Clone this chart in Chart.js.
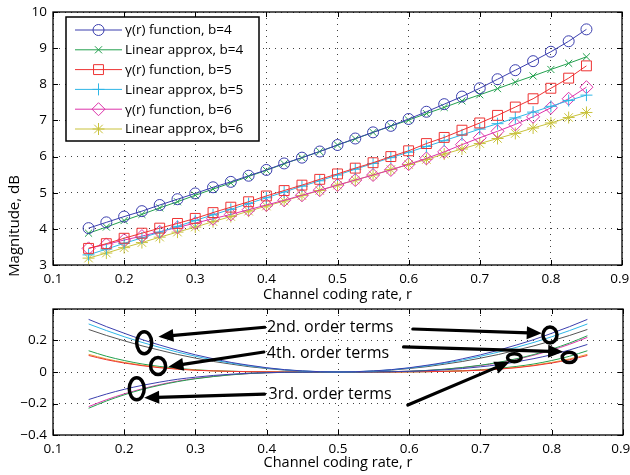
<!DOCTYPE html>
<html>
<head>
<meta charset="utf-8">
<script src="https://cdn.jsdelivr.net/npm/chart.js@4.4.0/dist/chart.umd.min.js"></script>
<style>
  html, body { margin: 0; padding: 0; background: #fff; }
  #wrap { position: relative; width: 630px; height: 475px; }
  #topChart { position: absolute; left: 0; top: 0; }
  #botChart { position: absolute; left: 0; top: 305px; }
</style>
</head>
<body>
<div id="wrap">
  <canvas id="topChart" width="630" height="305"></canvas>
  <canvas id="botChart" width="630" height="170"></canvas>
</div>
<script>
/* ============================================================
   Magnitude vs channel coding rate + expansion terms
   ============================================================ */

// ── Data ─────────────────────────────────────────────────────
const rates = [0.15, 0.175, 0.2, 0.225, 0.25, 0.275, 0.3, 0.325, 0.35, 0.375,
               0.4, 0.425, 0.45, 0.475, 0.5, 0.525, 0.55, 0.575, 0.6, 0.625,
               0.65, 0.675, 0.7, 0.725, 0.75, 0.775, 0.8, 0.825, 0.85];

const xTicks       = [0.1, 0.2, 0.3, 0.4, 0.5, 0.6, 0.7, 0.8, 0.9];
const yTicksTop    = [3, 4, 5, 6, 7, 8, 9, 10];
const yTicksBottom = [-0.4, -0.2, 0, 0.2, 0.4];

const gammaB4 = [4.02, 4.18, 4.34, 4.49, 4.66, 4.82, 4.98, 5.15, 5.30, 5.47,
                 5.63, 5.81, 5.97, 6.14, 6.32, 6.50, 6.67, 6.85, 7.04, 7.24,
                 7.45, 7.66, 7.89, 8.14, 8.39, 8.64, 8.90, 9.19, 9.52];
const linB4   = [3.88, 4.05, 4.23, 4.40, 4.58, 4.75, 4.93, 5.10, 5.27, 5.45,
                 5.62, 5.80, 5.97, 6.14, 6.32, 6.49, 6.67, 6.84, 7.01, 7.19,
                 7.36, 7.54, 7.71, 7.88, 8.06, 8.23, 8.41, 8.58, 8.76];
const gammaB5 = [3.46, 3.59, 3.74, 3.88, 4.02, 4.15, 4.29, 4.45, 4.60, 4.75,
                 4.91, 5.06, 5.21, 5.37, 5.52, 5.68, 5.83, 6.00, 6.16, 6.36,
                 6.53, 6.73, 6.93, 7.14, 7.37, 7.60, 7.89, 8.17, 8.51];
const linB5   = [3.28, 3.44, 3.60, 3.75, 3.91, 4.07, 4.23, 4.39, 4.54, 4.70,
                 4.86, 5.02, 5.18, 5.33, 5.49, 5.65, 5.81, 5.97, 6.12, 6.28,
                 6.44, 6.60, 6.76, 6.91, 7.07, 7.23, 7.39, 7.55, 7.70];
const gammaB6 = [3.46, 3.57, 3.69, 3.80, 3.92, 4.04, 4.16, 4.28, 4.40, 4.53,
                 4.66, 4.79, 4.93, 5.07, 5.21, 5.35, 5.49, 5.63, 5.79, 5.95,
                 6.13, 6.33, 6.52, 6.70, 6.89, 7.10, 7.35, 7.60, 7.92];
const linB6   = [3.19, 3.33, 3.48, 3.62, 3.77, 3.91, 4.05, 4.20, 4.34, 4.49,
                 4.63, 4.77, 4.92, 5.06, 5.21, 5.35, 5.49, 5.64, 5.78, 5.92,
                 6.07, 6.21, 6.36, 6.50, 6.64, 6.79, 6.93, 7.08, 7.22];

const legendLabels = ['γ(r) function, b=4', 'Linear approx, b=4',
                      'γ(r) function, b=5', 'Linear approx, b=5',
                      'γ(r) function, b=6', 'Linear approx, b=6'];

// expansion terms (lower panel)
const order2Blue = [0.334, 0.288, 0.246, 0.206, 0.171, 0.138, 0.109, 0.084, 0.061, 0.043, 0.027, 0.015, 0.007, 0.002, 0,
                    0.002, 0.007, 0.015, 0.027, 0.043, 0.061, 0.084, 0.109, 0.138, 0.171, 0.206, 0.246, 0.288, 0.334];
const order2Cyan = [0.305, 0.263, 0.224, 0.188, 0.156, 0.126, 0.100, 0.076, 0.056, 0.039, 0.025, 0.014, 0.006, 0.002, 0,
                    0.002, 0.006, 0.014, 0.025, 0.039, 0.056, 0.076, 0.100, 0.126, 0.156, 0.188, 0.224, 0.263, 0.305];
const order2Gray = [0.270, 0.232, 0.198, 0.166, 0.138, 0.111, 0.088, 0.067, 0.050, 0.034, 0.022, 0.012, 0.006, 0.001, 0,
                    0.001, 0.006, 0.012, 0.022, 0.034, 0.050, 0.067, 0.088, 0.111, 0.138, 0.166, 0.198, 0.232, 0.270];
const order3Blue = [-0.175, -0.140, -0.110, -0.085, -0.064, -0.046, -0.033, -0.022, -0.014, -0.008, -0.004, -0.002, -0.001,
                    0, 0, 0,
                    0.001, 0.002, 0.004, 0.008, 0.014, 0.022, 0.033, 0.046, 0.064, 0.085, 0.110, 0.140, 0.175];
const order3Mag  = [-0.220, -0.176, -0.139, -0.107, -0.080, -0.058, -0.041, -0.028, -0.017, -0.010, -0.005, -0.002, -0.001,
                    0, 0, 0,
                    0.001, 0.002, 0.005, 0.010, 0.017, 0.028, 0.041, 0.058, 0.080, 0.107, 0.139, 0.176, 0.220];
const order3Green = [-0.230, -0.184, -0.145, -0.111, -0.084, -0.061, -0.043, -0.029, -0.018, -0.010, -0.005, -0.002, -0.001,
                     0, 0, 0,
                     0.001, 0.002, 0.005, 0.010, 0.018, 0.029, 0.043, 0.061, 0.084, 0.111, 0.145, 0.184, 0.230];
const order4Green = [0.135, 0.100, 0.073, 0.051, 0.035, 0.023, 0.014, 0.008, 0.005, 0.002, 0.001,
                     0, 0, 0, 0, 0, 0, 0,
                     0.001, 0.002, 0.005, 0.008, 0.014, 0.023, 0.035, 0.051, 0.073, 0.100, 0.135];
const order4Orange = [0.112, 0.083, 0.061, 0.043, 0.029, 0.019, 0.012, 0.007, 0.004, 0.002, 0.001,
                      0, 0, 0, 0, 0, 0, 0,
                      0.001, 0.002, 0.004, 0.007, 0.012, 0.019, 0.029, 0.043, 0.061, 0.083, 0.112];
const order4Red  = [0.105, 0.078, 0.057, 0.040, 0.027, 0.018, 0.011, 0.007, 0.004, 0.002, 0.001,
                    0, 0, 0, 0, 0, 0, 0,
                    0.001, 0.002, 0.004, 0.007, 0.011, 0.018, 0.027, 0.040, 0.057, 0.078, 0.105];

// annotation anchors in data units (r, value)
const annoLabels = ['2nd. order terms', '4th. order terms', '3rd. order terms'];
const annoAt     = [[0.489, 0.286], [0.486, 0.121], [0.489, -0.140]];
const arrowLines = [[0.397, 0.284, 0.248, 0.224], [0.605, 0.273, 0.786, 0.246],
                    [0.396, 0.127, 0.262, 0.034], [0.592, 0.159, 0.816, 0.129],
                    [0.397, -0.140, 0.228, -0.163], [0.598, -0.210, 0.741, 0.065]];
const rings      = [[0.228, 0.186, 7.5, 11], [0.2475, 0.038, 7.5, 8.5], [0.2175, -0.107, 7.5, 11],
                    [0.7975, 0.235, 7, 8], [0.8245, 0.093, 7, 5.2], [0.7475, 0.091, 6.8, 4]];

// ── Shared style ─────────────────────────────────────────────
const FONT = "'Open Sans', sans-serif";
const C = {
  blue: '#3b3fae', green: '#23a04e', red: '#ee3333',
  cyan: '#2fb6e6', magenta: '#dd33aa', yellow: '#c9c23c',
  gray: '#555555', orange: '#e8a030'
};

const pts = arr => arr.map((v, i) => ({ x: rates[i], y: v }));

const fmtTick = v => {
  if (Math.abs(v) < 1e-9) return '0';
  const s = Math.abs(v) >= 1 && Number.isInteger(v) ? String(Math.abs(v)) : Math.abs(v).toFixed(1);
  return (v < 0 ? '\u2212' : '') + s;
};
// last x label sits on the canvas edge: pad it so it stays fully visible
const fmtX = (v, i, all) => fmtTick(v) + (i === all.length - 1 ? '\u2009\u2009' : '');

// box + inward ticks on all four sides, MATLAB style
const matlabFrame = {
  id: 'matlabFrame',
  afterDatasetsDraw(chart) {
    const { ctx, chartArea: { left, right, top, bottom }, scales } = chart;
    ctx.save();
    ctx.strokeStyle = '#000';
    ctx.lineWidth = 1;
    ctx.beginPath();
    scales.x.ticks.forEach(t => {
      const px = Math.round(scales.x.getPixelForValue(t.value)) + 0.5;
      ctx.moveTo(px, bottom); ctx.lineTo(px, bottom - 5);
      ctx.moveTo(px, top);    ctx.lineTo(px, top + 5);
    });
    scales.y.ticks.forEach(t => {
      const py = Math.round(scales.y.getPixelForValue(t.value)) + 0.5;
      ctx.moveTo(left, py);  ctx.lineTo(left + 5, py);
      ctx.moveTo(right, py); ctx.lineTo(right - 5, py);
    });
    ctx.stroke();
    ctx.lineWidth = 1.3;
    ctx.strokeRect(left, top, right - left, bottom - top);
    ctx.restore();
  }
};

const sideLabel = {
  id: 'sideLabel',
  afterDraw(chart) {
    const { ctx } = chart;
    ctx.save();
    ctx.translate(15, 226);
    ctx.rotate(-Math.PI / 2);
    ctx.font = `15px ${FONT}`;
    ctx.fillStyle = '#000';
    ctx.textAlign = 'center';
    ctx.textBaseline = 'middle';
    ctx.fillText('Magnitude, dB', 0, 0);
    ctx.restore();
  }
};

const boxLegend = {
  id: 'boxLegend',
  afterDraw(chart) {
    const { ctx } = chart;
    const x0 = 66, y0 = 17, w = 193, h = 124;
    ctx.save();
    ctx.fillStyle = '#fff';
    ctx.fillRect(x0, y0, w, h);
    ctx.strokeStyle = '#000';
    ctx.lineWidth = 1.5;
    ctx.strokeRect(x0, y0, w, h);
    ctx.font = `13.5px ${FONT}`;
    ctx.textBaseline = 'middle';
    chart.data.datasets.forEach((ds, i) => {
      const y = 30 + i * 19.8;
      ctx.strokeStyle = ds.borderColor;
      ctx.lineWidth = 1;
      ctx.beginPath();
      ctx.moveTo(75, y); ctx.lineTo(122, y);
      ctx.stroke();
      ctx.fillStyle = 'rgba(0,0,0,0)';
      Chart.helpers.drawPoint(ctx, {
        pointStyle: ds.pointStyle, radius: ds.pointRadius, rotation: 0, borderWidth: 1
      }, 98.5, y);
      ctx.fillStyle = '#000';
      ctx.fillText(legendLabels[i], 125, y + 0.5);
    });
    ctx.restore();
  }
};

const termNotes = {
  id: 'termNotes',
  afterDraw(chart) {
    const { ctx, scales: { x, y } } = chart;
    const px = r => x.getPixelForValue(r);
    const py = v => y.getPixelForValue(v);
    ctx.save();
    ctx.strokeStyle = '#000';
    ctx.fillStyle = '#000';
    ctx.lineWidth = 3.2;
    ctx.lineCap = 'round';
    arrowLines.forEach(([r0, v0, r1, v1]) => {
      const xa = px(r0), ya = py(v0), xb = px(r1), yb = py(v1);
      const ang = Math.atan2(yb - ya, xb - xa);
      const hl = 15, hw = 6.5;
      const bx = xb - Math.cos(ang) * hl, by = yb - Math.sin(ang) * hl;
      ctx.beginPath();
      ctx.moveTo(xa, ya); ctx.lineTo(bx + Math.cos(ang) * 2, by + Math.sin(ang) * 2);
      ctx.stroke();
      ctx.beginPath();
      ctx.moveTo(xb, yb);
      ctx.lineTo(bx - Math.sin(ang) * hw, by + Math.cos(ang) * hw);
      ctx.lineTo(bx + Math.sin(ang) * hw, by - Math.cos(ang) * hw);
      ctx.closePath();
      ctx.fill();
    });
    ctx.lineWidth = 3.5;
    rings.forEach(([r, v, rx, ry]) => {
      ctx.beginPath();
      ctx.ellipse(px(r), py(v), rx, ry, 0, 0, Math.PI * 2);
      ctx.stroke();
    });
    ctx.font = `16px ${FONT}`;
    ctx.textAlign = 'center';
    ctx.textBaseline = 'middle';
    annoLabels.forEach((t, i) => ctx.fillText(t, px(annoAt[i][0]), py(annoAt[i][1])));
    ctx.restore();
  }
};

// fixed axis thickness, and no extra room reserved for edge labels
const axisCommon = (ticksArr, fitProp, fitVal, fmt) => ({
  type: 'linear',
  afterBuildTicks: ax => { ax.ticks = ticksArr.map(v => ({ value: v })); },
  afterFit: ax => {
    ax[fitProp] = fitVal;
    ax.paddingLeft = ax.paddingRight = ax.paddingTop = ax.paddingBottom = 0;
  },
  grid: { color: 'rgba(0,0,0,0.75)', lineWidth: 1, drawTicks: false },
  border: { display: false, dash: [1, 5] },
  ticks: { color: '#000', font: { family: FONT, size: 13.5 }, padding: 6, callback: fmt || (v => fmtTick(v)) }
});

// ── Upper panel ──────────────────────────────────────────────
const topSeries = [
  { data: gammaB4, color: C.blue,    style: 'circle',   r: 5.5 },
  { data: linB4,   color: C.green,   style: 'crossRot', r: 5 },
  { data: gammaB5, color: C.red,     style: 'rect',     r: 7 },
  { data: linB5,   color: C.cyan,    style: 'cross',    r: 6 },
  { data: gammaB6, color: C.magenta, style: 'rectRot',  r: 6.5 },
  { data: linB6,   color: C.yellow,  style: 'star',     r: 6 },
];

new Chart(document.getElementById('topChart'), {
  type: 'line',
  data: {
    datasets: topSeries.map((s, i) => ({
      label: legendLabels[i],
      data: pts(s.data),
      borderColor: s.color,
      borderWidth: 1,
      pointStyle: s.style,
      pointRadius: s.r,
      pointBorderColor: s.color,
      pointBackgroundColor: 'rgba(0,0,0,0)',
      pointBorderWidth: 1,
      tension: 0,
    }))
  },
  options: {
    responsive: false,
    animation: false,
    layout: { padding: { left: 0, top: 12, right: 7, bottom: 1 } },
    plugins: { legend: { display: false }, tooltip: { enabled: false } },
    scales: {
      x: {
        ...axisCommon(xTicks, 'height', 39, fmtX),
        min: 0.1, max: 0.9,
        title: { display: true, text: 'Channel coding rate, r', color: '#000',
                 font: { family: FONT, size: 14.5 }, padding: 0 },
      },
      y: {
        ...axisCommon(yTicksTop, 'width', 53),
        min: 3, max: 10,
      }
    }
  },
  plugins: [matlabFrame, sideLabel, boxLegend]
});

// ── Lower panel ──────────────────────────────────────────────
const botSeries = [
  { data: order2Blue,    color: C.blue },
  { data: order2Cyan,    color: C.cyan },
  { data: order2Gray,    color: C.gray },
  { data: order3Blue,    color: C.blue },
  { data: order3Green,   color: C.green },
  { data: order3Mag,     color: C.magenta },
  { data: order4Red,     color: C.red },
  { data: order4Orange,  color: C.orange },
  { data: order4Green,   color: C.green },
];

new Chart(document.getElementById('botChart'), {
  type: 'line',
  data: {
    datasets: botSeries.map(s => ({
      data: pts(s.data),
      borderColor: s.color,
      borderWidth: 1,
      pointRadius: 0,
      cubicInterpolationMode: 'monotone',
    }))
  },
  options: {
    responsive: false,
    animation: false,
    layout: { padding: { left: 0, top: 4, right: 7, bottom: 3 } },
    plugins: { legend: { display: false }, tooltip: { enabled: false } },
    scales: {
      x: {
        ...axisCommon(xTicks, 'height', 37, fmtX),
        min: 0.1, max: 0.9,
        title: { display: true, text: 'Channel coding rate, r', color: '#000',
                 font: { family: FONT, size: 14.5 }, padding: 0 },
      },
      y: {
        ...axisCommon(yTicksBottom, 'width', 53),
        min: -0.4, max: 0.4,
        ticks: { color: '#000', font: { family: FONT, size: 13.5 }, padding: 6,
                 callback: v => (v > 0.39 ? '' : fmtTick(v)) },
      }
    }
  },
  plugins: [matlabFrame, termNotes]
});
</script>
</body>
</html>
